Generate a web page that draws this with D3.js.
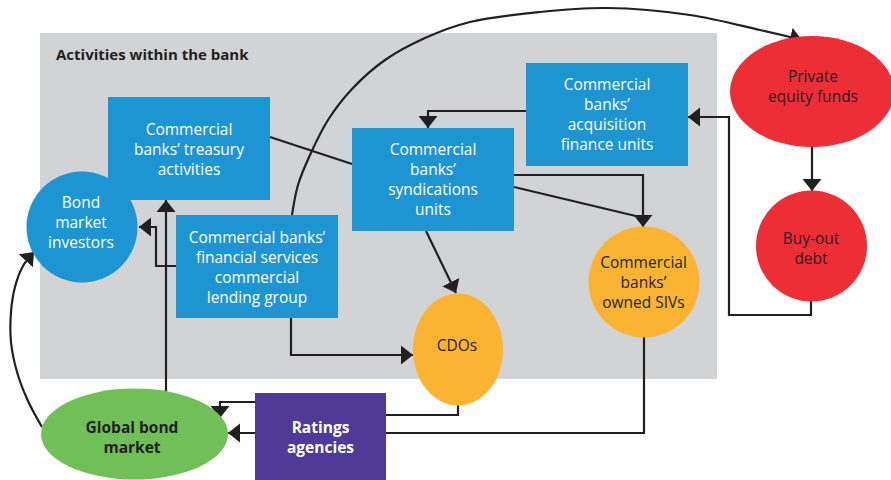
<!DOCTYPE html>
<html><head><meta charset="utf-8">
<script src="https://cdn.jsdelivr.net/npm/d3@7"></script>
<style>html,body{margin:0;padding:0;background:#fff;}svg{display:block;}</style>
</head><body>
<svg id="chart" width="891" height="480"></svg>
<script>
// ---- content ----
const panelTitle = "Activities within the bank";
const rectNodes = ["treasury", "syndications", "acquisition", "lending", "ratings"];
const rectLabels = [
  ["Commercial", "banks’ treasury", "activities"],
  ["Commercial", "banks’", "syndications", "units"],
  ["Commercial", "banks’", "acquisition", "finance units"],
  ["Commercial banks’", "financial services", "commercial", "lending group"],
  ["Ratings", "agencies"]
];
const ellipseNodes = ["investors", "cdos", "sivs", "privateEquity", "buyout", "globalBond"];
const ellipseLabels = [
  ["Bond", "market", "investors"],
  ["CDOs"],
  ["Commercial", "banks’", "owned SIVs"],
  ["Private", "equity funds"],
  ["Buy-out", "debt"],
  ["Global bond", "market"]
];
const links = [
  ["treasury", "syndications"], ["syndications", "sivs"], ["syndications", "sivs"],
  ["acquisition", "syndications"], ["buyout", "acquisition"], ["privateEquity", "buyout"],
  ["lending", "privateEquity"], ["globalBond", "treasury"], ["lending", "investors"],
  ["lending", "cdos"], ["syndications", "cdos"], ["cdos", "globalBond"],
  ["sivs", "globalBond"], ["globalBond", "investors"]
];

// ---- layout & style ----
const layout = {
  panel: {x: 40, y: 33, w: 677, h: 346},
  treasury: {x: 108, y: 97, w: 162, h: 103, adj: 6.5},
  syndications: {x: 352, y: 128, w: 162, h: 103, adj: 5.5},
  acquisition: {x: 526, y: 63, w: 162, h: 103, adj: 5.5},
  lending: {x: 176, y: 215, w: 162, h: 103, adj: 6.5},
  ratings: {x: 255, y: 393, w: 131, h: 90, adj: 6},
  investors: {cx: 82, cy: 227, rx: 55.5, ry: 55.5, adj: 1, tx: 81},
  cdos: {cx: 458, cy: 349.5, rx: 45, ry: 56, adj: 1, tx: 457},
  sivs: {cx: 644, cy: 282, rx: 55.5, ry: 55.5, adj: 6, tx: 643.5},
  privateEquity: {cx: 812, cy: 91.5, rx: 82, ry: 55.5, adj: 0, tx: 813},
  buyout: {cx: 811.5, cy: 246, rx: 55.5, ry: 55.5, adj: 8, tx: 811},
  globalBond: {cx: 134.5, cy: 434, rx: 93.5, ry: 45.5, adj: 9, tx: 132}
};
const fills = {
  treasury: "#1e95d3", syndications: "#1e95d3", acquisition: "#1e95d3", lending: "#1e95d3",
  ratings: "#4f3b97", investors: "#1e95d3", cdos: "#fbb432", sivs: "#fbb432",
  privateEquity: "#ee2e37", buyout: "#ee2e37", globalBond: "#70bf57"
};
const textFills = {ratings: "#ffffff", treasury: "#ffffff", syndications: "#ffffff", acquisition: "#ffffff",
  lending: "#ffffff", investors: "#ffffff"};
const boldNodes = {ratings: true, globalBond: true};
const ink = "#231f20";

// routes (pixel waypoints for each link, same order as links); arrow flag
const routes = [
  {pts: [[270, 137], [352, 164]], arrow: false},
  {pts: [[514, 187], [640, 217]], arrow: false},
  {pts: [[514, 175], [643, 175], [643, 227]], arrow: true},
  {pts: [[526, 111], [428, 111], [428, 128]], arrow: true},
  {pts: [[811, 301], [811, 315], [729, 315], [729, 117], [688, 117]], arrow: true},
  {pts: [[812, 147], [812, 191]], arrow: true},
  {pts: [[292, 215], [298, 185], [310, 155], [328, 120], [352, 89], [385, 60], [425, 38], [470, 22], [540, 12], [607, 8], [690, 15], [760, 30], [802, 40]], arrow: true, curve: true},
  {pts: [[166, 400], [166, 200]], arrow: true},
  {pts: [[176, 266], [156, 266], [156, 227], [139, 227]], arrow: true},
  {pts: [[291, 318], [291, 355], [413, 355]], arrow: true},
  {pts: [[426, 231], [456, 293]], arrow: true},
  {pts: [[458, 405], [458, 415], [320, 415], [320, 402], [220, 402], [220, 418]], arrow: true},
  {pts: [[644, 337], [644, 433], [228, 433]], arrow: true},
  {pts: [[42, 427], [28, 401], [17, 372], [11, 342], [11, 312], [15, 287], [23, 266], [34, 252]], arrow: true, curve: true}
];

const FONT = "'Open Sans', 'Noto Sans', sans-serif";
const FS = 15.5, LH = 20;

const svg = d3.select("#chart");
svg.append("rect").attr("width", 891).attr("height", 480).attr("fill", "#fff");

const defs = svg.append("defs");
defs.append("marker").attr("id", "arr")
  .attr("markerUnits", "userSpaceOnUse")
  .attr("viewBox", "0 -10 12 20").attr("markerWidth", 12).attr("markerHeight", 20)
  .attr("refX", 12).attr("refY", 0).attr("orient", "auto")
  .append("path").attr("d", "M0,-9.5L12,0L0,9.5Z").attr("fill", ink);

// panel
const P = layout.panel;
svg.append("rect").attr("x", P.x).attr("y", P.y).attr("width", P.w).attr("height", P.h).attr("fill", "#d1d3d4");
svg.append("text").attr("x", 56).attr("y", 60).text(panelTitle)
  .attr("font-family", FONT).attr("font-weight", 700).attr("font-size", 15).attr("fill", ink);

// links
const straight = d3.line().curve(d3.curveLinear);
const smooth = d3.line().curve(d3.curveCatmullRom.alpha(0.5));
svg.append("g").selectAll("path").data(routes).join("path")
  .attr("d", r => (r.curve ? smooth : straight)(r.pts))
  .attr("fill", "none").attr("stroke", ink).attr("stroke-width", 2.2)
  .attr("stroke-linejoin", "miter")
  .attr("marker-end", r => r.arrow ? "url(#arr)" : null);

// rect nodes
const rg = svg.append("g").selectAll("g").data(rectNodes).join("g");
rg.append("rect")
  .attr("x", d => layout[d].x).attr("y", d => layout[d].y)
  .attr("width", d => layout[d].w).attr("height", d => layout[d].h)
  .attr("fill", d => fills[d]);

// ellipse nodes
const eg = svg.append("g").selectAll("g").data(ellipseNodes).join("g");
eg.append("ellipse")
  .attr("cx", d => layout[d].cx).attr("cy", d => layout[d].cy)
  .attr("rx", d => layout[d].rx).attr("ry", d => layout[d].ry)
  .attr("fill", d => fills[d]);

function drawLabel(g, id, lines, cx, cy) {
  const L = layout[id];
  const n = lines.length;
  const t = g.append("text")
    .attr("text-anchor", "middle").attr("font-family", FONT)
    .attr("font-size", FS).attr("font-weight", boldNodes[id] ? 700 : 400)
    .attr("fill", textFills[id] || ink);
  lines.forEach((s, i) => {
    t.append("tspan").attr("x", cx).attr("y", cy + (i - (n - 1) / 2) * LH + L.adj).text(s);
  });
}
rg.each(function(d, i) {
  const L = layout[d];
  drawLabel(d3.select(this), d, rectLabels[i], L.x + L.w / 2, L.y + (d === "ratings" ? 87 : L.h) / 2);
});
eg.each(function(d, i) {
  const L = layout[d];
  drawLabel(d3.select(this), d, ellipseLabels[i], L.tx, L.cy);
});
</script>
</body></html>
